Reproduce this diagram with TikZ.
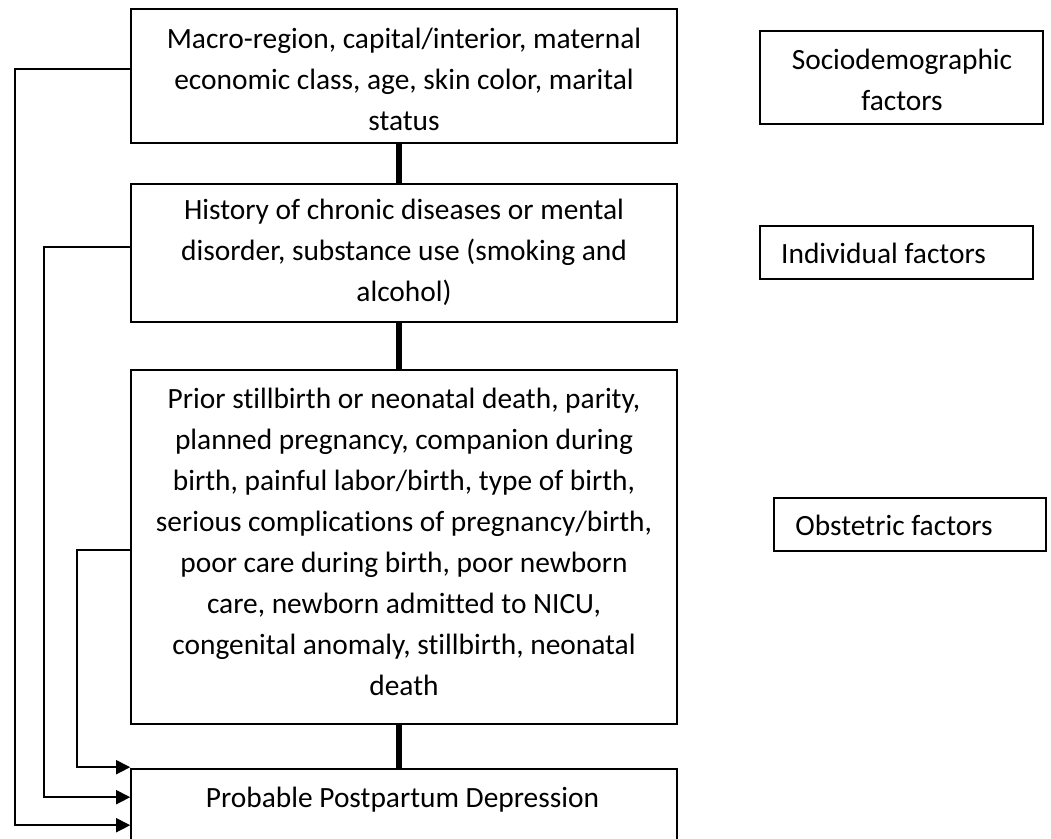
\documentclass[tikz,border=0pt]{standalone}
\usepackage{fontspec}
\setmainfont{Carlito}[Ligatures={NoCommon}]
\usetikzlibrary{arrows.meta,calc}
\newcommand\tstrut{\rule[-12.3pt]{0pt}{41pt}}
\begin{document}
\begin{tikzpicture}[x=1pt,y=-1pt,
  box/.style={draw,line width=1.6pt,rectangle,inner sep=0pt},
  txt/.style={align=center,inner sep=0pt,font=\fontsize{29.4}{41}\selectfont},
  trunk/.style={line width=6pt},
  conn/.style={line width=1.6pt},
  arr/.style={conn,-{Triangle[length=14pt,width=14pt]}}]
\useasboundingbox (0,0) rectangle (1051,838);
\clip (0,0) rectangle (1051,838);
\fill[white] (0,0) rectangle (1051,838);
% main boxes
\node[box,minimum width=546pt,minimum height=134pt] (b1) at (404,76) {};
\node[box,minimum width=546pt,minimum height=138pt] (b2) at (404,253) {};
\node[box,minimum width=546pt,minimum height=354pt] (b3) at (404,547) {};
\node[box,minimum width=546pt,minimum height=76pt] (b4) at (404,807) {};
% side boxes
\node[box,minimum width=283pt,minimum height=93pt] (s1) at (901.5,77.5) {};
\node[box,minimum width=273pt,minimum height=53pt] (s2) at (896.5,252.5) {};
\node[box,minimum width=272pt,minimum height=53pt] (s3) at (910,524.5) {};
% texts
\node[txt] (t1) at (404,80.8) {\tstrut Macro-region, capital/interior, maternal\\economic class, age, skin color, marital\\status\tstrut};
\node[txt] (t2) at (404,251.8) {\tstrut History of chronic diseases or mental\\disorder, substance use (smoking and\\alcohol)\tstrut};
\node[txt] (t3) at (404,543.3) {\tstrut Prior stillbirth or neonatal death, parity,\\planned pregnancy, companion during\\birth, painful labor/birth, type of birth,\\serious complications of pregnancy/birth,\\poor care during birth, poor newborn\\care, newborn admitted to NICU,\\congenital anomaly, stillbirth, neonatal\\death\tstrut};
\node[txt] (t4) at (402.5,798.8) {\tstrut Probable Postpartum Depression\tstrut};
\node[txt] (u1) at (902,81.8) {\tstrut Sociodemographic\\factors\tstrut};
\node[txt] (u2) at (883.5,254.8) {\tstrut Individual factors\tstrut};
\node[txt] (u3) at (894,526.8) {\tstrut Obstetric factors\tstrut};
% trunk connectors
\draw[trunk] ([xshift=-5pt]b1.south) -- ([xshift=-5pt]b2.north);
\draw[trunk] ([xshift=-5pt]b2.south) -- ([xshift=-5pt]b3.north);
\draw[trunk] ([xshift=-5pt]b3.south) -- ([xshift=-5pt]b4.north);
% side connectors
\coordinate (r1) at (15,0);
\coordinate (r2) at (44,0);
\coordinate (r3) at (77,0);
\coordinate (o1) at ($(b1.north west)+(0,61)$);
\coordinate (o2) at ($(b2.north west)+(0,64)$);
\coordinate (o3) at ($(b3.north west)+(0,181)$);
\coordinate (i1) at ($(b4.north west)+(0,57)$);
\coordinate (i2) at ($(b4.north west)+(0,29)$);
\coordinate (i3) at ($(b4.north west)+(0,-1)$);
\draw[arr] (o1) -- (o1 -| r1) |- (i1);
\draw[arr] (o2) -- (o2 -| r2) |- (i2);
\draw[arr] (o3) -- (o3 -| r3) |- (i3);
\end{tikzpicture}
\end{document}
